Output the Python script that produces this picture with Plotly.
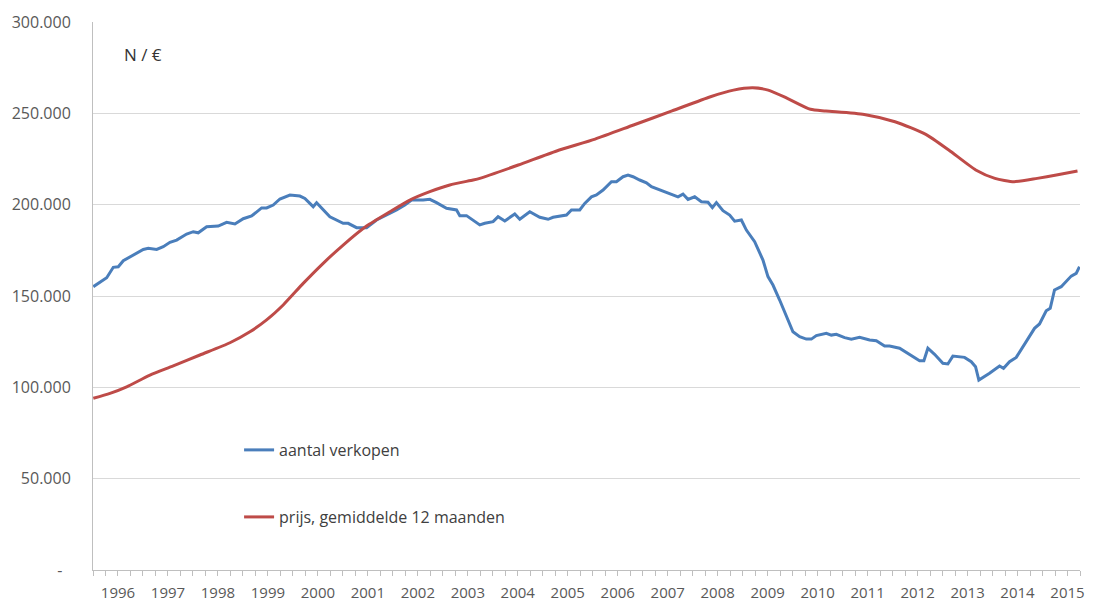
import plotly.graph_objects as go

# ---- data (decimal years, values in units) ----
sales_years = [1995.506, 1995.64, 1995.774, 1995.906, 1996.006, 1996.106, 1996.306, 1996.506, 1996.606, 1996.774,
               1996.906, 1997.04, 1997.174, 1997.374, 1997.506, 1997.606, 1997.774, 1998.006, 1998.174, 1998.34,
               1998.506, 1998.674, 1998.874, 1998.974, 1999.106, 1999.24, 1999.44, 1999.64, 1999.74, 1999.84,
               1999.906, 1999.974, 2000.24, 2000.506, 2000.606, 2000.774, 2000.974, 2001.174, 2001.374, 2001.574,
               2001.74, 2001.874, 2002.106, 2002.24, 2002.374, 2002.574, 2002.774, 2002.84, 2002.974, 2003.24,
               2003.34, 2003.506, 2003.606, 2003.74, 2003.94, 2004.04, 2004.24, 2004.44, 2004.606, 2004.706,
               2004.974, 2005.074, 2005.24, 2005.34, 2005.474, 2005.574, 2005.706, 2005.874, 2005.974, 2006.106,
               2006.206, 2006.306, 2006.44, 2006.574, 2006.674, 2006.84, 2007.04, 2007.206, 2007.306, 2007.406,
               2007.54, 2007.674, 2007.806, 2007.894, 2007.974, 2008.106, 2008.24, 2008.34, 2008.474, 2008.574,
               2008.74, 2008.906, 2009.006, 2009.106, 2009.24, 2009.374, 2009.506, 2009.64, 2009.774, 2009.874,
               2009.974, 2010.174, 2010.274, 2010.374, 2010.54, 2010.674, 2010.84, 2011.04, 2011.174, 2011.34,
               2011.44, 2011.64, 2011.84, 2012.04, 2012.126, 2012.206, 2012.34, 2012.506, 2012.606, 2012.706,
               2012.94, 2013.074, 2013.16, 2013.226, 2013.44, 2013.64, 2013.72, 2013.84, 2013.974, 2014.106,
               2014.24, 2014.34, 2014.44, 2014.574, 2014.654, 2014.74, 2014.874, 2014.974, 2015.074, 2015.174,
               2015.24]
sales_values = [155100, 157800, 160000, 165700, 166000, 169300, 172400, 175500, 176100, 175500,
                177000, 179400, 180600, 183900, 185200, 184600, 187900, 188300, 190300, 189400,
                192300, 193800, 198200, 198200, 199800, 203100, 205300, 204700, 203400, 200700,
                198900, 201100, 193400, 189800, 189800, 187400, 187400, 191600, 194300, 197100,
                199800, 202500, 202500, 202900, 201100, 198000, 197100, 194000, 194000, 188900,
                189800, 190700, 193400, 191100, 194900, 192000, 196100, 193100, 192000, 193100,
                194300, 197100, 197100, 200700, 204300, 205300, 208000, 212600, 212600, 215300,
                216200, 215300, 213500, 212000, 209800, 208000, 206200, 204300, 205800, 202900,
                204300, 201600, 201300, 198400, 201100, 196700, 194300, 191000, 191600, 186100,
                179700, 169700, 160600, 156000, 147800, 138700, 130400, 127700, 126400, 126400,
                128300, 129600, 128600, 129000, 127200, 126400, 127400, 125900, 125500, 122600,
                122600, 121400, 118100, 114600, 114600, 121400, 118100, 113200, 112800, 117100,
                116400, 114000, 111300, 104000, 107700, 111700, 110400, 114000, 116400, 122200,
                127700, 132300, 134700, 141900, 143300, 153300, 155100, 157800, 160900, 162400,
                166000]

price_years = [1995.506, 1995.84, 1996.174, 1996.64, 1997.106, 1997.64, 1998.24, 1998.64, 1998.974, 1999.306,
               1999.706, 2000.106, 2000.506, 2000.974, 2001.44, 2001.84, 2002.24, 2002.64, 2003.106, 2003.24,
               2004.01, 2004.778, 2005.548, 2006.316, 2007.086, 2007.856, 2008.316, 2008.7, 2009.01, 2009.394,
               2009.856, 2010.164, 2010.932, 2011.548, 2012.164, 2012.624, 2013.164, 2013.548, 2013.932, 2014.394,
               2014.778, 2015.2]
price_values = [94000, 96700, 100300, 106700, 111700, 117700, 124400, 130400, 136900, 145100,
                156900, 167900, 177900, 188300, 196100, 202500, 207100, 210800, 213500, 214400,
                221700, 229400, 235900, 243600, 251300, 259100, 262700, 264000, 262700, 258200,
                252200, 251300, 249400, 245400, 238500, 229900, 219000, 214400, 212600, 214400,
                216200, 218400]

year_ticks = list(range(1996, 2016))
y_ticks = [0, 50000, 100000, 150000, 200000, 250000, 300000]
y_labels = ["-\u00a0\u00a0", "50.000", "100.000", "150.000", "200.000", "250.000", "300.000"]

FONT = "Open Sans"
GRID = "#D9D9D9"
AXIS = "#BFBFBF"

fig = go.Figure()
fig.add_trace(go.Scatter(x=sales_years, y=sales_values, mode="lines", name="aantal verkopen",
                         line=dict(color="#4A7EBB", width=3), legend="legend"))
fig.add_trace(go.Scatter(x=price_years, y=price_values, mode="lines", name="prijs, gemiddelde 12 maanden",
                         line=dict(color="#BE4B48", width=3, shape="spline", smoothing=0.6), legend="legend2"))

fig.update_layout(
    width=1099, height=603,
    margin=dict(l=93, r=19, t=22, b=33, autoexpand=False),
    paper_bgcolor="white", plot_bgcolor="white",
    font=dict(family=FONT, size=16, color="#595959"),
    showlegend=True,
    legend=dict(x=0.148, y=0.219, xanchor="left", yanchor="middle", bgcolor="rgba(0,0,0,0)",
                font=dict(family=FONT, size=16, color="#404040")),
    legend2=dict(x=0.148, y=0.0967, xanchor="left", yanchor="middle", bgcolor="rgba(0,0,0,0)",
                 font=dict(family=FONT, size=16, color="#404040")),
    xaxis=dict(range=[1995.5, 2015.25], tickvals=year_ticks, ticktext=[str(y) for y in year_ticks],
               ticks="outside", ticklen=5, tickcolor=AXIS, showgrid=False, zeroline=False, automargin=False,
               showline=True, linecolor=AXIS, linewidth=1, ticklabelstandoff=4,
               minor=dict(dtick=0.25, tick0=1995.5, ticks="outside", ticklen=5, tickcolor=AXIS, showgrid=False),
               tickfont=dict(family=FONT, size=15, color="#595959")),
    yaxis=dict(range=[0, 300000], tickvals=y_ticks, ticktext=y_labels, showgrid=True, gridcolor=GRID,
               gridwidth=1, zeroline=False, showline=True, linecolor=AXIS, linewidth=1, ticks="",
               automargin=False, ticklabelstandoff=18, tickfont=dict(family=FONT, size=16, color="#595959")),
    annotations=[dict(text="N / €", x=0.029, y=0.94, xref="paper", yref="paper", xanchor="left",
                      yanchor="middle", showarrow=False, font=dict(family=FONT, size=17, color="#333333"))],
)

fig.write_html("out.html", config={"displayModeBar": False},
               post_script="document.body.style.margin='0';document.body.style.overflow='hidden';")
